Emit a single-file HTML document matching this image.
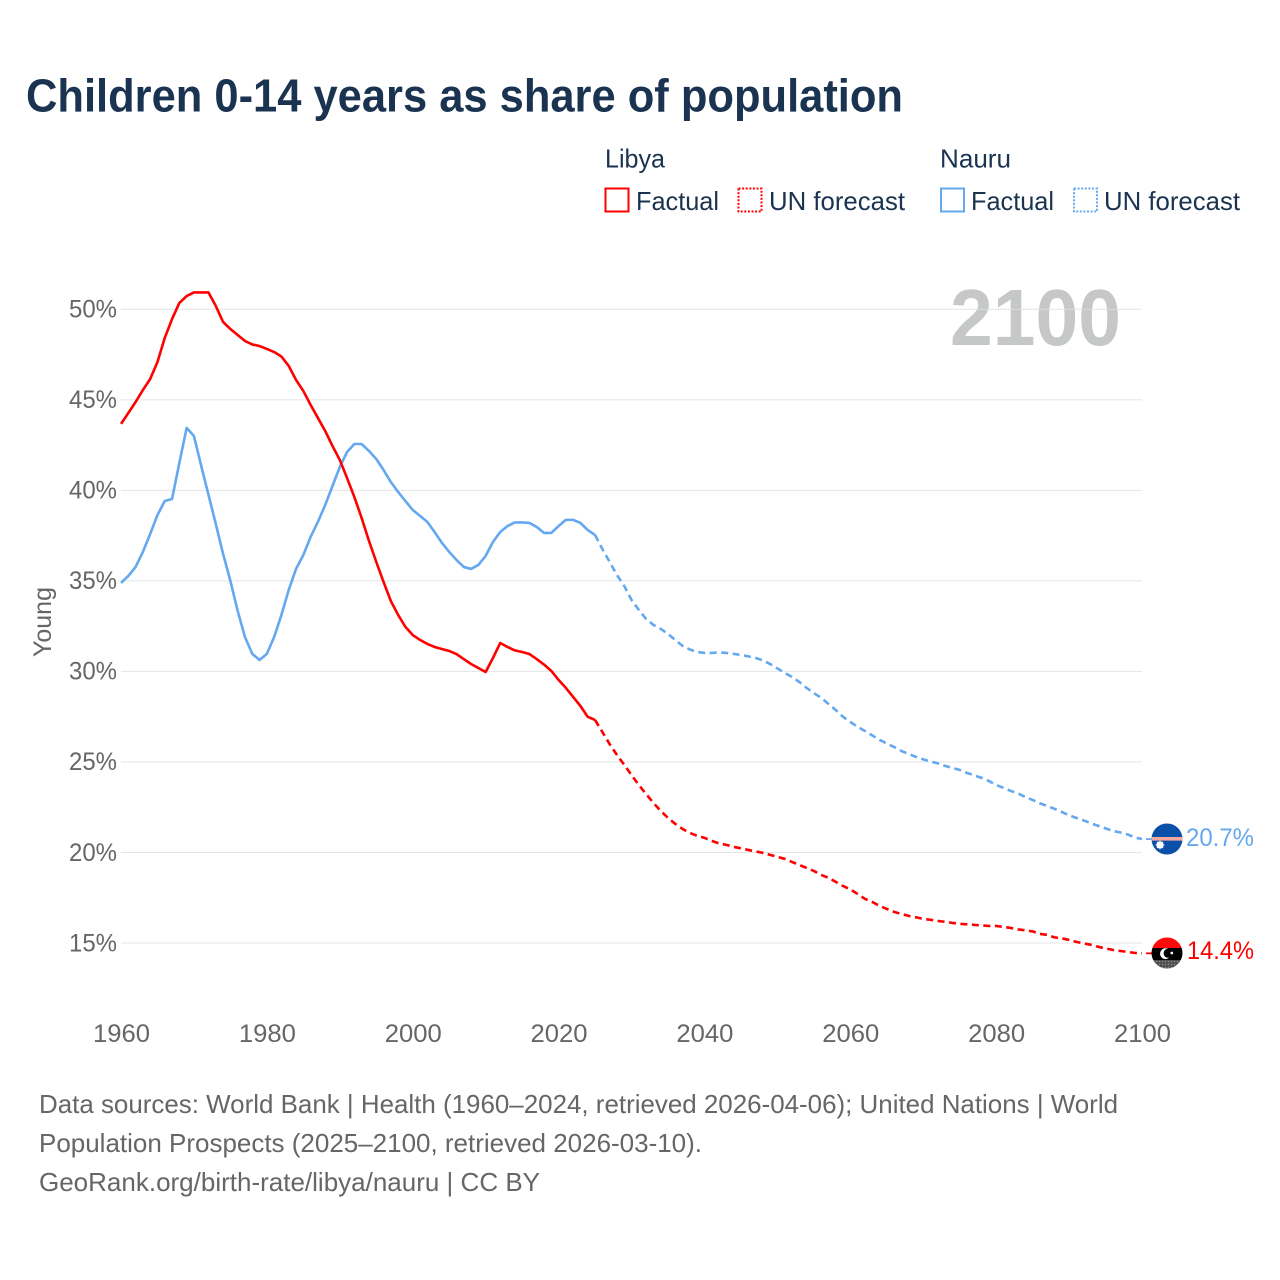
<!DOCTYPE html>
<html lang="en">
<head>
<meta charset="utf-8">
<title>Children 0-14 years as share of population</title>
<style>
html,body{margin:0;padding:0;background:#fff;width:1280px;height:1280px;overflow:hidden}
svg{display:block}
text{font-family:"Liberation Sans",sans-serif}
</style>
</head>
<body>
<svg id="chart" xmlns="http://www.w3.org/2000/svg" width="1280" height="1280" viewBox="0 0 1280 1280">
  <defs>
    <clipPath id="clip-nauru"><circle cx="1167" cy="839" r="15.5"/></clipPath>
    <clipPath id="clip-libya"><circle cx="1167" cy="953" r="15.5"/></clipPath>
    <pattern id="dither" width="3" height="3" patternUnits="userSpaceOnUse">
      <rect width="3" height="3" fill="#4f4f4f"/>
      <circle cx="1.5" cy="1.5" r="0.8" fill="#8a8a8a"/>
    </pattern>
  </defs>

  <text x="26" y="111.5" font-size="46" font-weight="700" fill="#1a3350" textLength="877" lengthAdjust="spacingAndGlyphs">Children 0-14 years as share of population</text>

  <g fill="#1a3350" font-size="26">
    <text x="605" y="167.5" textLength="60" lengthAdjust="spacingAndGlyphs">Libya</text>
    <rect x="605.5" y="188.5" width="23" height="23" fill="none" stroke="#ff0000" stroke-width="2"/>
    <text x="636" y="210" textLength="83" lengthAdjust="spacingAndGlyphs">Factual</text>
    <rect x="738.5" y="188.5" width="23" height="23" fill="none" stroke="#ff0000" stroke-width="2" stroke-dasharray="2 1.6"/>
    <text x="769" y="210" textLength="136" lengthAdjust="spacingAndGlyphs">UN forecast</text>
    <text x="940" y="167.5" textLength="71" lengthAdjust="spacingAndGlyphs">Nauru</text>
    <rect x="941" y="188.5" width="23" height="23" fill="none" stroke="#64a8f0" stroke-width="2"/>
    <text x="971" y="210" textLength="83" lengthAdjust="spacingAndGlyphs">Factual</text>
    <rect x="1074" y="188.5" width="23" height="23" fill="none" stroke="#64a8f0" stroke-width="2" stroke-dasharray="2 1.6"/>
    <text x="1104" y="210" textLength="136" lengthAdjust="spacingAndGlyphs">UN forecast</text>
  </g>

  <text x="950" y="345" font-size="80" font-weight="700" fill="#c6c8c8" textLength="171" lengthAdjust="spacingAndGlyphs">2100</text>

  <g id="grid"></g>
  <g id="y-ticks"></g>
  <g id="x-ticks"></g>
  <text transform="translate(51,622) rotate(-90)" text-anchor="middle" font-size="25" fill="#666666" textLength="70" lengthAdjust="spacingAndGlyphs">Young</text>
  <g id="series"></g>

  <g clip-path="url(#clip-nauru)">
    <rect x="1150" y="822" width="34" height="34" fill="#0a50a8"/>
    <rect x="1150" y="837" width="34" height="3.6" fill="#f5a89c"/>
    <circle cx="1160" cy="845" r="3.6" fill="#ffffff"/>
    <path d="M1160 840.6v8.8M1155.6 845h8.8M1156.9 841.9l6.2 6.2M1163.1 841.9l-6.2 6.2" stroke="#ffffff" stroke-width="1"/>
  </g>
  <g clip-path="url(#clip-libya)">
    <rect x="1150" y="936" width="34" height="12" fill="#ff0a0a"/>
    <rect x="1150" y="948" width="34" height="12" fill="#000000"/>
    <rect x="1150" y="960" width="34" height="10" fill="url(#dither)"/>
    <circle cx="1165.5" cy="953.7" r="5.4" fill="#ffffff"/>
    <circle cx="1168.2" cy="953.3" r="4.6" fill="#000000"/>
    <circle cx="1171.8" cy="953" r="1.4" fill="#ffffff"/>
  </g>

  <text id="label-nauru" x="1186" y="846" font-size="25" fill="#64a8f0" textLength="68" lengthAdjust="spacingAndGlyphs"></text>
  <text id="label-libya" x="1187" y="959" font-size="25" fill="#ff0000" textLength="67" lengthAdjust="spacingAndGlyphs"></text>

  <g font-size="26" fill="#666666">
    <text x="39" y="1113" textLength="1079" lengthAdjust="spacingAndGlyphs">Data sources: World Bank | Health (1960–2024, retrieved 2026-04-06); United Nations | World</text>
    <text x="39" y="1152" textLength="663" lengthAdjust="spacingAndGlyphs">Population Prospects (2025–2100, retrieved 2026-03-10).</text>
    <text x="39" y="1191" textLength="501" lengthAdjust="spacingAndGlyphs">GeoRank.org/birth-rate/libya/nauru | CC BY</text>
  </g>
</svg>
<script>
const yTicks = [15, 20, 25, 30, 35, 40, 45, 50];
const xTicks = [1960, 1980, 2000, 2020, 2040, 2060, 2080, 2100];
const factualStartYear = 1960;
const forecastStartYear = 2025;

const libyaFactual = [
  43.67,44.27,44.88,45.54,46.15,47.09,48.42,49.46,50.35,50.73,
  50.93,50.93,50.93,50.18,49.30,48.91,48.58,48.25,48.06,47.97,
  47.81,47.64,47.39,46.87,46.10,45.49,44.72,44.00,43.28,42.45,
  41.68,40.68,39.63,38.47,37.21,36.05,34.94,33.89,33.12,32.46,
  32.01,31.74,31.52,31.35,31.24,31.13,30.96,30.68,30.41,30.19,
  29.97,30.74,31.57,31.35,31.16,31.07,30.96,30.68,30.38,30.03,
  29.53,29.09,28.59,28.09,27.49,27.32
];
const libyaForecast = [
  27.32,26.66,25.99,25.39,24.84,24.28,23.73,23.23,22.74,22.30,21.91,
  21.58,21.30,21.08,20.92,20.81,20.64,20.50,20.42,20.31,20.23,
  20.14,20.06,19.98,19.87,19.76,19.65,19.48,19.31,19.15,18.98,
  18.76,18.60,18.38,18.15,17.96,17.71,17.44,17.27,17.05,16.88,
  16.72,16.61,16.50,16.42,16.33,16.28,16.22,16.17,16.11,16.06,
  16.03,16.00,15.97,15.94,15.94,15.89,15.83,15.75,15.70,15.64,
  15.50,15.45,15.31,15.26,15.17,15.06,14.98,14.90,14.79,14.70,
  14.62,14.56,14.51,14.45,14.43
];
const nauruFactual = [
  34.89,35.27,35.77,36.60,37.59,38.64,39.41,39.52,41.51,43.45,
  43.00,41.35,39.75,38.14,36.49,35.00,33.34,31.90,30.97,30.63,
  30.97,31.90,33.12,34.50,35.66,36.43,37.43,38.26,39.19,40.24,
  41.29,42.12,42.56,42.56,42.18,41.73,41.13,40.46,39.91,39.41,
  38.92,38.59,38.26,37.70,37.10,36.60,36.16,35.77,35.66,35.88,
  36.38,37.15,37.70,38.03,38.23,38.23,38.20,37.98,37.65,37.65,
  38.03,38.37,38.37,38.20,37.81,37.54
];
const nauruForecast = [
  37.54,36.76,36.05,35.33,34.72,33.95,33.40,32.90,32.57,32.35,32.07,
  31.74,31.41,31.21,31.08,31.02,31.02,31.05,31.02,30.97,30.91,
  30.83,30.75,30.61,30.41,30.17,29.92,29.70,29.42,29.09,28.81,
  28.54,28.21,27.87,27.49,27.21,26.94,26.71,26.47,26.22,26.02,
  25.83,25.61,25.44,25.28,25.14,25.03,24.92,24.78,24.67,24.56,
  24.39,24.26,24.12,23.95,23.73,23.57,23.40,23.26,23.07,22.90,
  22.71,22.57,22.41,22.24,22.05,21.91,21.77,21.61,21.47,21.33,
  21.19,21.11,21.00,20.83,20.74
];

const SVGNS = 'http://www.w3.org/2000/svg';
function xScale(year) { return 121 + (year - 1960) * (1142 - 121) / 140; }
function yScale(value) { return 943 - (value - 15) * (943 - 309.3) / 35; }
function linePath(values, startYear) {
  return values.map(function (v, i) {
    return (i ? 'L' : 'M') + xScale(startYear + i).toFixed(2) + ' ' + yScale(v).toFixed(2);
  }).join('');
}
function fmt(v) { return (Math.floor(v * 10 + 1e-9) / 10).toFixed(1) + '%'; }

const gridGroup = document.getElementById('grid');
const yGroup = document.getElementById('y-ticks');
yTicks.forEach(function (t) {
  const ln = document.createElementNS(SVGNS, 'line');
  
  
  ln.setAttribute('x1', 121);
  ln.setAttribute('x2', 1142);
  ln.setAttribute('y1', yScale(t));
  ln.setAttribute('y2', yScale(t));
  ln.setAttribute('stroke', '#dfe0e2');
  ln.setAttribute('stroke-opacity', '0.85');
  ln.setAttribute('stroke-width', '1');
  gridGroup.appendChild(ln);
  const lb = document.createElementNS(SVGNS, 'text');
  
  
  lb.setAttribute('x', 117);
  lb.setAttribute('y', yScale(t) + 8.3);
  lb.setAttribute('text-anchor', 'end');
  lb.setAttribute('font-size', '25');
  lb.setAttribute('fill', '#666666');
  lb.setAttribute('textLength', '48');
  lb.setAttribute('lengthAdjust', 'spacingAndGlyphs');
  lb.textContent = t + '%';
  yGroup.appendChild(lb);
});

const xGroup = document.getElementById('x-ticks');
xTicks.forEach(function (t) {
  const lb = document.createElementNS(SVGNS, 'text');
  
  
  lb.setAttribute('x', xScale(t) + 0.5);
  lb.setAttribute('y', 1042);
  lb.setAttribute('text-anchor', 'middle');
  lb.setAttribute('font-size', '25');
  lb.setAttribute('fill', '#666666');
  lb.setAttribute('textLength', '57');
  lb.setAttribute('lengthAdjust', 'spacingAndGlyphs');
  lb.textContent = t;
  xGroup.appendChild(lb);
});

const seriesGroup = document.getElementById('series');
function addLine(values, startYear, color, dashed, name) {
  const p = document.createElementNS(SVGNS, 'path');
  
  
  p.setAttribute('d', linePath(values, startYear));
  p.setAttribute('fill', 'none');
  p.setAttribute('stroke', color);
  p.setAttribute('stroke-width', '2.6');
  p.setAttribute('stroke-linejoin', 'round');
  if (dashed) p.setAttribute('stroke-dasharray', '7 4.5');
  seriesGroup.appendChild(p);
}
function addConnector(lastValue, color, name) {
  const c = document.createElementNS(SVGNS, 'line');
  
  
  c.setAttribute('x1', xScale(2100) + 4);
  c.setAttribute('x2', 1153);
  c.setAttribute('y1', yScale(lastValue));
  c.setAttribute('y2', yScale(lastValue));
  c.setAttribute('stroke', color);
  c.setAttribute('stroke-width', '1.8');
  seriesGroup.appendChild(c);
}
addLine(nauruFactual, factualStartYear, '#64a8f0', false, 'line-nauru-factual');
addLine(libyaFactual, factualStartYear, '#ff0000', false, 'line-libya-factual');
addLine(nauruForecast, forecastStartYear, '#64a8f0', true, 'line-nauru-forecast');
addLine(libyaForecast, forecastStartYear, '#ff0000', true, 'line-libya-forecast');
addConnector(nauruForecast[nauruForecast.length - 1], '#64a8f0', 'connector-nauru');
addConnector(libyaForecast[libyaForecast.length - 1], '#ff0000', 'connector-libya');

document.getElementById('label-nauru').textContent = fmt(nauruForecast[nauruForecast.length - 1]);
document.getElementById('label-libya').textContent = fmt(libyaForecast[libyaForecast.length - 1]);
</script>
</body>
</html>
